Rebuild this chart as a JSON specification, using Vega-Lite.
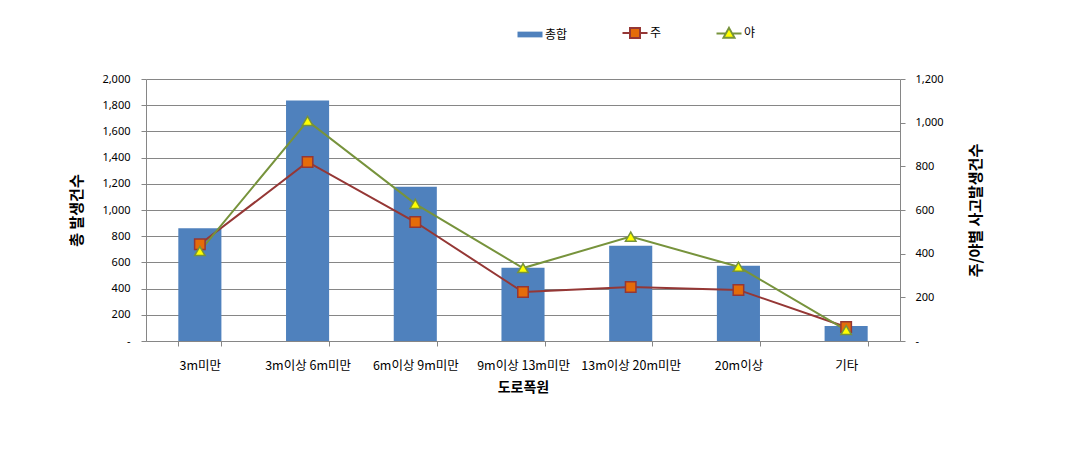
{
  "$schema": "https://vega.github.io/schema/vega-lite/v6.json",
  "width": 754,
  "height": 262,
  "autosize": {"type": "none"},
  "padding": {"left": 146, "top": 79, "right": 175, "bottom": 113},
  "background": "white",
  "config": {
    "view": {"stroke": null},
    "axis": {
      "domainColor": "#868686",
      "tickColor": "#868686",
      "gridColor": "#868686",
      "labelColor": "#000000",
      "titleColor": "#000000",
      "labelFont": "Noto Sans",
      "labelFontSize": 11,
      "titleFont": "Noto Sans CJK KR",
      "titleFontSize": 15,
      "titleFontWeight": "bold",
      "tickSize": 5
    },
    "legend": {
      "title": null,
      "orient": "none",
      "legendX": 378,
      "legendY": -52,
      "direction": "horizontal",
      "columns": 3,
      "columnPadding": 50,
      "labelOffset": 9,
      "symbolSize": 625,
      "labelFont": "Noto Sans CJK KR",
      "labelFontSize": 12,
      "labelColor": "#000000"
    }
  },
  "data": {
    "values": [
      {"i": 1, "도로폭원": "3m미만", "총합": 860, "주": 443, "야": 412},
      {"i": 2, "도로폭원": "3m이상 6m미만", "총합": 1835, "주": 820, "야": 1008},
      {"i": 3, "도로폭원": "6m이상 9m미만", "총합": 1178, "주": 545, "야": 628},
      {"i": 4, "도로폭원": "9m이상 13m미만", "총합": 560, "주": 224, "야": 334},
      {"i": 5, "도로폭원": "13m이상 20m미만", "총합": 728, "주": 247, "야": 478},
      {"i": 6, "도로폭원": "20m이상", "총합": 575, "주": 234, "야": 340},
      {"i": 7, "도로폭원": "기타", "총합": 115, "주": 64, "야": 50}
    ]
  },
  "encoding": {
    "x": {
      "field": "도로폭원",
      "type": "nominal",
      "sort": null,
      "scale": {"paddingInner": 0.6, "paddingOuter": 0.3},
      "axis": {
        "title": "도로폭원",
        "labelAngle": 0,
        "labelFont": "Noto Sans CJK KR",
        "labelFontSize": 12.5,
        "tickBand": "extent",
        "labelPadding": 13,
        "titlePadding": 9,
        "titleFontSize": 14
      }
    }
  },
  "layer": [
    {
      "mark": {"type": "bar"},
      "encoding": {
        "y": {
          "field": "총합",
          "type": "quantitative",
          "scale": {"domain": [0, 2000]},
          "axis": {
            "title": "총 발생건수",
            "values": [0, 200, 400, 600, 800, 1000, 1200, 1400, 1600, 1800, 2000],
            "labelExpr": "datum.value === 0 ? '-' : format(datum.value, ',')",
            "grid": true,
            "labelPadding": 11,
            "titlePadding": 17
          }
        },
        "fill": {
          "datum": "총합",
          "type": "nominal",
          "title": null,
          "scale": {"domain": ["총합", "주", "야"], "range": ["#4F81BD", "#E46C0A", "#FFFF00"]},
          "legend": {
            "title": null,
            "symbolSize": 625,
            "encode": {
              "symbols": {
                "update": {
                  "shape": {"signal": "datum.value === '총합' ? 'M-1,-0.23H1V0.23H-1Z' : datum.value === '주' ? 'M-1,0H-0.4M0.4,0H1M-0.4,-0.4H0.4V0.4H-0.4Z' : 'M-1,0H-0.24M0.24,0H1M0,-0.44L0.44,0.34H-0.44Z'"},
                  "strokeWidth": {"signal": "datum.value === '총합' ? 0 : 2"},
                  "opacity": {"value": 1},
                  "fillOpacity": {"value": 1}
                }
              }
            }
          }
        }
      }
    },
    {
      "transform": [{"fold": ["주", "야"], "as": ["key", "value"]}],
      "encoding": {
        "y": {
          "field": "value",
          "type": "quantitative",
          "scale": {"domain": [0, 1200]},
          "axis": {
            "orient": "right",
            "title": "주/야별 사고발생건수",
            "titleAngle": 270,
            "values": [0, 200, 400, 600, 800, 1000, 1200],
            "labelExpr": "datum.value === 0 ? '-' : format(datum.value, ',')",
            "grid": false,
            "labelPadding": 10,
            "titlePadding": 40
          }
        }
      },
      "layer": [
        {
          "mark": {"type": "line", "strokeWidth": 2},
          "encoding": {
            "order": {"field": "i", "type": "quantitative"},
            "stroke": {
              "field": "key",
              "type": "nominal",
              "title": null,
              "scale": {"domain": ["총합", "주", "야"], "range": ["#4F81BD", "#953735", "#77933C"]},
              "legend": {
                "title": null,
                "symbolSize": 625,
                "encode": {
                  "symbols": {
                    "update": {
                      "shape": {"signal": "datum.value === '총합' ? 'M-1,-0.23H1V0.23H-1Z' : datum.value === '주' ? 'M-1,0H-0.4M0.4,0H1M-0.4,-0.4H0.4V0.4H-0.4Z' : 'M-1,0H-0.24M0.24,0H1M0,-0.44L0.44,0.34H-0.44Z'"},
                      "strokeWidth": {"signal": "datum.value === '총합' ? 0 : 2"},
                      "opacity": {"value": 1},
                      "fillOpacity": {"value": 1}
                    }
                  }
                }
              }
            }
          }
        },
        {
          "mark": {"type": "point", "filled": true, "size": 110, "strokeWidth": 1.5, "opacity": 1},
          "encoding": {
            "shape": {"field": "key", "type": "nominal", "scale": {"domain": ["주", "야"], "range": ["square", "triangle-up"]}, "legend": null},
            "fill": {"field": "key", "type": "nominal", "title": null},
            "stroke": {"field": "key", "type": "nominal", "title": null}
          }
        }
      ]
    }
  ],
  "resolve": {"scale": {"y": "independent"}}
}
